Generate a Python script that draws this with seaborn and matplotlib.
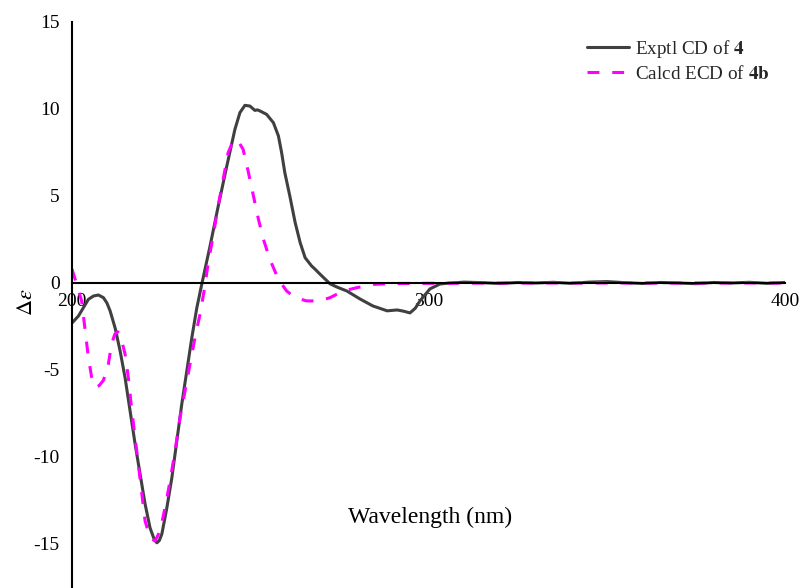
import matplotlib
matplotlib.use("Agg")
import matplotlib.pyplot as plt
import pandas as pd
import seaborn as sns

# Experimental CD spectrum of compound 4 (wavelength in nm, delta epsilon)
wavelength_exptl = [
    200.0, 201.8, 203.2, 204.6, 206.0, 207.4, 208.8, 209.8, 210.7, 212.1,
    213.5, 214.9, 216.3, 217.7, 219.1, 220.5, 221.9, 223.0, 223.8, 224.5,
    225.2, 226.6, 228.0, 229.4, 230.8, 232.2, 233.6, 235.0, 236.4, 238.7,
    241.0, 243.4, 245.7, 247.1, 248.5, 249.9, 251.3, 252.0, 252.7, 254.6,
    256.5, 257.9, 258.8, 259.7, 261.1, 262.6, 264.0, 265.4, 267.2, 268.2,
    269.6, 272.4, 274.5, 277.1, 280.8, 284.4, 288.4, 291.2, 293.0, 294.8,
    296.3, 297.6, 300.4, 303.2, 305.0, 310.0, 315.0, 320.0, 325.0, 330.0,
    335.0, 340.0, 345.0, 350.0, 355.0, 360.0, 365.0, 370.0, 375.0, 380.0,
    385.0, 390.0, 395.0, 400.0,
]
cd_exptl = [
    -2.30, -1.90, -1.42, -0.94, -0.75, -0.69, -0.84, -1.15, -1.61, -2.59,
    -3.91, -5.46, -7.36, -9.25, -10.98, -12.70, -14.08, -14.70, -14.93, -14.80,
    -14.43, -12.93, -11.21, -9.08, -6.95, -5.06, -3.16, -1.44, -0.07, 2.10,
    4.40, 6.70, 8.83, 9.79, 10.21, 10.17, 9.92, 9.95, 9.89, 9.69,
    9.21, 8.45, 7.49, 6.34, 5.00, 3.47, 2.32, 1.45, 0.98, 0.79,
    0.50, -0.05, -0.25, -0.46, -0.92, -1.32, -1.60, -1.55, -1.62, -1.72,
    -1.45, -1.03, -0.34, -0.06, -0.02, 0.05, 0.02, -0.03, 0.03, 0.00,
    0.04, -0.02, 0.05, 0.08, 0.02, -0.03, 0.03, 0.00, -0.04, 0.03,
    0.00, 0.04, -0.02, 0.03,
]

# Calculated ECD spectrum of conformer 4b
wavelength_calcd = [
    200.0, 201.5, 202.7, 203.6, 204.6, 205.5, 206.5, 207.6, 208.8, 210.2,
    211.1, 212.0, 212.8, 213.5, 214.9, 215.8, 216.7, 217.7, 218.6, 219.6,
    220.5, 221.9, 223.3, 224.7, 226.1, 227.5, 228.9, 230.3, 231.7, 233.1,
    234.5, 235.9, 237.3, 238.2, 239.6, 241.0, 242.4, 243.8, 245.2, 246.0,
    246.6, 248.0, 249.5, 250.9, 252.3, 253.7, 255.5, 257.9, 260.2, 262.6,
    265.8, 269.6, 272.4, 276.1, 279.9, 284.5, 290.0, 300.0, 320.0, 350.0,
    400.0,
]
ecd_calcd = [
    0.80, -0.20, -1.03, -2.57, -4.29, -5.40, -6.00, -5.90, -5.60, -4.67,
    -3.50, -2.95, -2.80, -2.95, -4.10, -5.44, -7.17, -8.89, -10.42, -12.14,
    -13.68, -14.64, -14.83, -14.25, -12.91, -11.38, -9.66, -7.74, -6.21, -4.67,
    -3.14, -1.80, -0.17, 1.17, 2.70, 4.43, 5.96, 7.49, 8.16, 8.25,
    8.16, 7.68, 6.34, 5.00, 3.66, 2.51, 1.36, 0.21, -0.46, -0.84,
    -1.03, -1.03, -0.84, -0.46, -0.27, -0.08, -0.03, -0.02, 0.00, 0.00,
    0.00,
]

x_ticks = [200, 300, 400]
y_ticks = [-15, -10, -5, 0, 5, 10, 15]
series_labels = [r"Exptl CD of $\mathbf{4}$", r"Calcd ECD of $\mathbf{4b}$"]

sns.set_theme(style="white")
plt.rcParams["font.family"] = ["Liberation Serif", "DejaVu Serif"]
plt.rcParams["mathtext.fontset"] = "stix"

W, H = 805, 588
fig = plt.figure(figsize=(W / 100, H / 100), dpi=100)
ax = fig.add_axes([72 / W, 0, 713 / W, 566 / H])

exptl = pd.DataFrame({"nm": wavelength_exptl, "de": cd_exptl})
calcd = pd.DataFrame({"nm": wavelength_calcd, "de": ecd_calcd})

sns.lineplot(data=exptl, x="nm", y="de", ax=ax, color="#404040", lw=2.2,
             sort=False, estimator=None, label=series_labels[0])
sns.lineplot(data=calcd, x="nm", y="de", ax=ax, color="#ff00ff", lw=2.2,
             linestyle=(0, (3.9, 4.2)), sort=False, estimator=None,
             label=series_labels[1])

ax.set_xlim(200, 400)
ax.set_ylim(-17.53, 15)
ax.set_xticks(x_ticks)
ax.set_yticks(y_ticks)
ax.set_xticklabels([str(t) for t in x_ticks])
ax.set_yticklabels([str(t) for t in y_ticks])
ax.tick_params(axis="both", length=0, labelsize=14, colors="black")
ax.tick_params(axis="x", pad=7)
ax.tick_params(axis="y", pad=9)

for side in ("top", "right"):
    ax.spines[side].set_visible(False)
for side in ("left", "bottom"):
    ax.spines[side].set_color("black")
    ax.spines[side].set_linewidth(1.5)
ax.spines["bottom"].set_position(("data", 0))
ax.grid(False)

ax.set_xlabel("Wavelength (nm)", fontsize=17, color="black", va="center")
ax.xaxis.set_label_coords(0.502, 0.124)
ax.set_ylabel(r"$\Delta\varepsilon$", fontsize=16, color="black", va="center")
ax.yaxis.set_label_coords(-0.062, 0.505)

ax.legend(loc="upper left", bbox_to_anchor=(587 / W, 1 - 38 / H),
          bbox_transform=fig.transFigure, frameon=False, fontsize=13.8,
          handlelength=2.2, handletextpad=0.3, labelspacing=0.25,
          borderpad=0, borderaxespad=0)

fig.savefig("out.png", dpi=100)
